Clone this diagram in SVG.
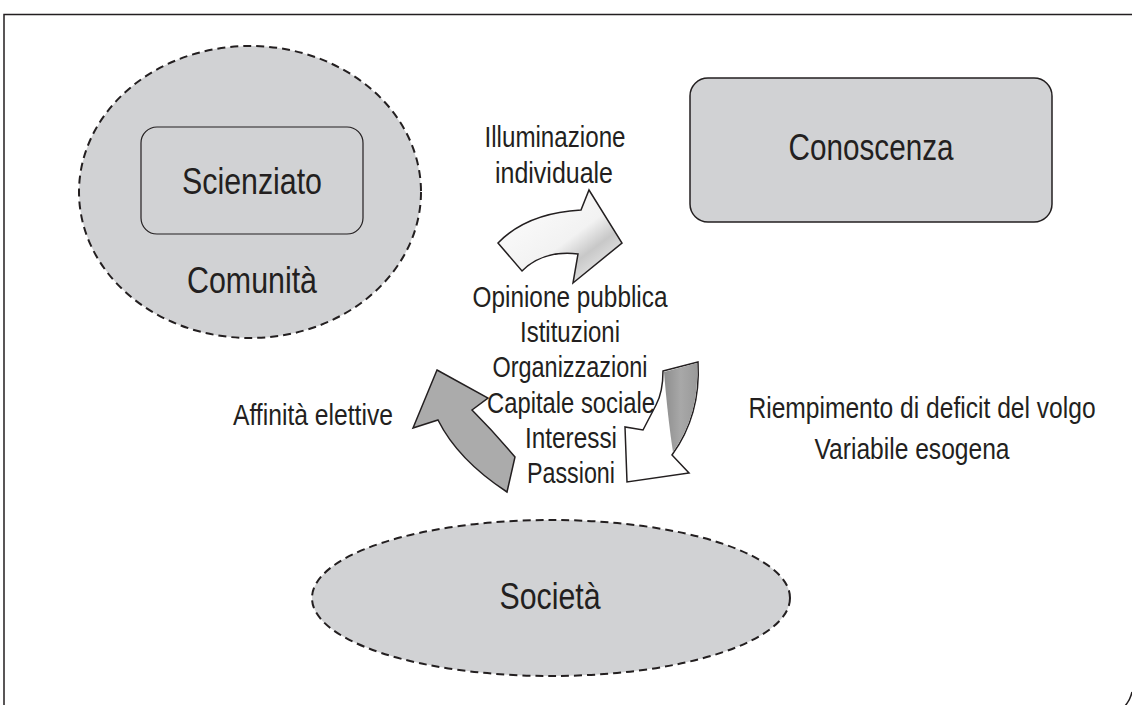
<svg xmlns="http://www.w3.org/2000/svg" width="1132" height="705" viewBox="0 0 1132 705">
<style>
text{font-family:"Liberation Sans Narrow","Arial Narrow","Liberation Sans",sans-serif;fill:#231f20;text-anchor:middle}
.big{font-size:37px}
.mid{font-size:30px}
.dash{fill:#d1d2d4;stroke:#231f20;stroke-width:2;stroke-dasharray:8 5}
.box{fill:#d1d2d4;stroke:#231f20}
.arr{stroke:#231f20;stroke-width:1.5;stroke-linejoin:miter}
</style>
<defs>
<linearGradient id="gw" x1="0" y1="0" x2="1" y2="1">
<stop offset="0" stop-color="#ffffff"/>
<stop offset="0.55" stop-color="#f2f2f2"/>
<stop offset="0.7" stop-color="#c8c8c8"/>
<stop offset="1" stop-color="#ffffff"/>
</linearGradient>
<linearGradient id="gg" x1="0" y1="0" x2="1" y2="0">
<stop offset="0" stop-color="#8e8e8e"/>
<stop offset="0.5" stop-color="#a8a8a8"/>
<stop offset="1" stop-color="#9a9a9a"/>
</linearGradient>
</defs>
<g id="frame" fill="none" stroke="#231f20" stroke-width="1.5">
<path d="M4,705 L4,14.5 L1132,14.5"/>
<path d="M1132,692 Q1130,701 1124,707"/>
</g>
<g id="comunita">
<ellipse class="dash" cx="250" cy="192" rx="171" ry="146"/>
<text class="big" x="252" y="293" textLength="130" lengthAdjust="spacingAndGlyphs">Comunità</text>
</g>
<g id="scienziato">
<rect class="box" x="141" y="127" width="222" height="107" rx="16" stroke-width="1.2"/>
<text class="big" x="252" y="194" textLength="140" lengthAdjust="spacingAndGlyphs">Scienziato</text>
</g>
<g id="conoscenza">
<rect class="box" x="690" y="78" width="362" height="144" rx="18" stroke-width="1.5"/>
<text class="big" x="871" y="160" textLength="165" lengthAdjust="spacingAndGlyphs">Conoscenza</text>
</g>
<g id="societa">
<ellipse class="dash" cx="551" cy="598" rx="239" ry="78"/>
<text class="big" x="550" y="609" textLength="101" lengthAdjust="spacingAndGlyphs">Società</text>
</g>
<g id="connectors">
<path class="arr" fill="url(#gw)" d="M498,243 Q527,213 581,210 L589,190 L622,243 L573,283 L578,254 Q543,250 522,271 Z"/>
<path class="arr" fill="#ffffff" d="M663,371 L698,362 Q701,415 672,455 L689,473 L627,482 L625,427 L643,430 L656,405 Q663,392 663,371 Z"/>
<path fill="url(#gg)" d="M664,372 L697,363 Q700,414 673,452 Q668,420 664,372 Z"/>
<path class="arr" fill="#ababab" d="M437,370 L488,398 L472,410 Q494,432 515,457 L507,492 Q458,460 438,420 L413,428 Z"/>
</g>
<g id="labels">
<text class="mid" x="555" y="147" textLength="141" lengthAdjust="spacingAndGlyphs">Illuminazione</text>
<text class="mid" x="554" y="183" textLength="118" lengthAdjust="spacingAndGlyphs">individuale</text>
<text class="mid" x="570" y="307" textLength="195" lengthAdjust="spacingAndGlyphs">Opinione pubblica</text>
<text class="mid" x="570" y="342" textLength="100" lengthAdjust="spacingAndGlyphs">Istituzioni</text>
<text class="mid" x="570" y="377" textLength="155" lengthAdjust="spacingAndGlyphs">Organizzazioni</text>
<text class="mid" x="571" y="413" textLength="168" lengthAdjust="spacingAndGlyphs">Capitale sociale</text>
<text class="mid" x="571" y="448" textLength="92" lengthAdjust="spacingAndGlyphs">Interessi</text>
<text class="mid" x="571" y="483" textLength="88" lengthAdjust="spacingAndGlyphs">Passioni</text>
<text class="mid" x="313" y="425" textLength="160" lengthAdjust="spacingAndGlyphs">Affinità elettive</text>
<text class="mid" transform="translate(922,418) scale(0.82,1)" x="0" y="0">Riempimento di deficit del volgo</text>
<text class="mid" transform="translate(912,459) scale(0.82,1)" x="0" y="0">Variabile esogena</text>
</g>
</svg>
